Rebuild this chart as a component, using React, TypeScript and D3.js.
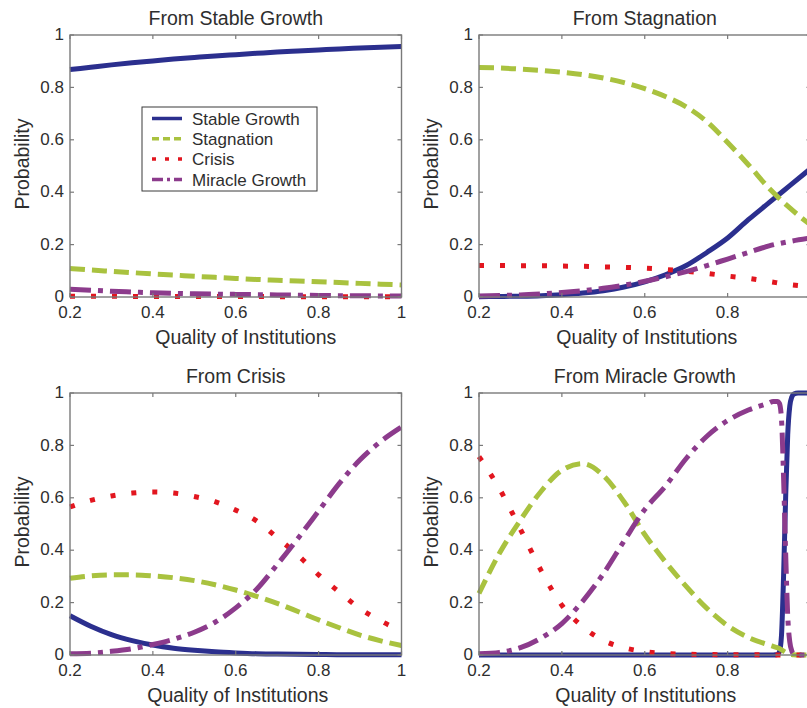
import React from "react";
import * as d3 from "d3";

// Quality-of-institutions grids (the last panel needs a finer grid near its sharp switch)
const quality = [0.2, 0.25, 0.3, 0.35, 0.4, 0.45, 0.5, 0.55, 0.6, 0.65, 0.7, 0.75, 0.8, 0.85, 0.9, 0.95, 1.0];
const qualityFine = [
  0.2, 0.25, 0.3, 0.35, 0.4, 0.45, 0.5, 0.55, 0.6, 0.65, 0.7, 0.75, 0.8, 0.85, 0.9,
  0.91, 0.92, 0.925, 0.93, 0.935, 0.94, 0.945, 0.95, 0.955, 0.96, 0.97, 0.98, 1.0,
];

const states = ["Stable Growth", "Stagnation", "Crisis", "Miracle Growth"];
const panelTitles = ["From Stable Growth", "From Stagnation", "From Crisis", "From Miracle Growth"];
const xTicks = [0.2, 0.4, 0.6, 0.8, 1];
const xTickLabels = ["0.2", "0.4", "0.6", "0.8", "1"];
const yTicks = [0, 0.2, 0.4, 0.6, 0.8, 1];
const yTickLabels = ["0", "0.2", "0.4", "0.6", "0.8", "1"];

// Transition probabilities from Stable Growth
const sgToStable = [0.868, 0.877, 0.886, 0.894, 0.901, 0.908, 0.914, 0.92, 0.925, 0.93, 0.935, 0.939, 0.943, 0.947, 0.95, 0.953, 0.956];
const sgToStagnation = [0.109, 0.103, 0.098, 0.093, 0.088, 0.084, 0.079, 0.075, 0.071, 0.067, 0.064, 0.061, 0.058, 0.055, 0.052, 0.049, 0.046];
const sgToCrisis = [0.003, 0.003, 0.003, 0.002, 0.002, 0.002, 0.002, 0.002, 0.002, 0.002, 0.001, 0.001, 0.001, 0.001, 0.001, 0.001, 0.001];
const sgToMiracle = [0.03, 0.026, 0.022, 0.019, 0.016, 0.014, 0.012, 0.011, 0.01, 0.009, 0.008, 0.007, 0.006, 0.005, 0.005, 0.004, 0.004];

// Transition probabilities from Stagnation
const stToStable = [0.001, 0.002, 0.003, 0.005, 0.009, 0.015, 0.024, 0.038, 0.058, 0.085, 0.12, 0.17, 0.225, 0.295, 0.36, 0.425, 0.49];
const stToStagnation = [0.876, 0.874, 0.87, 0.865, 0.858, 0.849, 0.836, 0.818, 0.795, 0.765, 0.726, 0.669, 0.59, 0.505, 0.415, 0.34, 0.275];
const stToCrisis = [0.12, 0.12, 0.119, 0.119, 0.118, 0.117, 0.115, 0.113, 0.11, 0.105, 0.098, 0.09, 0.08, 0.071, 0.059, 0.047, 0.04];
const stToMiracle = [0.004, 0.006, 0.008, 0.012, 0.017, 0.024, 0.033, 0.045, 0.06, 0.077, 0.097, 0.12, 0.145, 0.17, 0.195, 0.212, 0.225];

// Transition probabilities from Crisis
const crToStable = [0.15, 0.11, 0.078, 0.055, 0.038, 0.026, 0.018, 0.012, 0.008, 0.005, 0.004, 0.003, 0.002, 0.001, 0.001, 0.001, 0.001];
const crToStagnation = [0.293, 0.302, 0.306, 0.306, 0.302, 0.295, 0.284, 0.268, 0.248, 0.224, 0.197, 0.166, 0.134, 0.104, 0.076, 0.054, 0.036];
const crToCrisis = [0.565, 0.59, 0.607, 0.618, 0.622, 0.618, 0.605, 0.585, 0.553, 0.512, 0.448, 0.381, 0.306, 0.24, 0.177, 0.13, 0.092];
const crToMiracle = [0.005, 0.007, 0.014, 0.024, 0.04, 0.06, 0.087, 0.125, 0.18, 0.25, 0.345, 0.445, 0.55, 0.655, 0.745, 0.815, 0.87];

// Transition probabilities from Miracle Growth
const mgToStable = [0, 0, 0, 0, 0, 0, 0, 0, 0, 0, 0, 0, 0, 0, 0, 0, 0.002, 0.012, 0.075, 0.3, 0.6, 0.84, 0.95, 0.985, 0.996, 1, 1, 1];
const mgToStagnation = [0.235, 0.39, 0.515, 0.625, 0.705, 0.73, 0.685, 0.585, 0.46, 0.355, 0.262, 0.178, 0.112, 0.067, 0.038, 0.033, 0.028, 0.025, 0.02, 0.015, 0.01, 0.006, 0.004, 0.002, 0.001, 0, 0, 0];
const mgToCrisis = [0.757, 0.633, 0.48, 0.322, 0.19, 0.108, 0.056, 0.028, 0.013, 0.006, 0.003, 0.002, 0.001, 0.001, 0, 0, 0, 0, 0, 0, 0, 0, 0, 0, 0, 0, 0, 0];
const mgToMiracle = [0.005, 0.01, 0.028, 0.065, 0.12, 0.205, 0.31, 0.435, 0.555, 0.645, 0.75, 0.835, 0.895, 0.935, 0.962, 0.968, 0.968, 0.96, 0.9, 0.68, 0.39, 0.15, 0.05, 0.015, 0.004, 0.001, 0, 0];

const panelGrids = [quality, quality, quality, qualityFine];
const panelSeries = [
  [sgToStable, sgToStagnation, sgToCrisis, sgToMiracle],
  [stToStable, stToStagnation, stToCrisis, stToMiracle],
  [crToStable, crToStagnation, crToCrisis, crToMiracle],
  [mgToStable, mgToStagnation, mgToCrisis, mgToMiracle],
];

// Line styles, one per destination state
const colors = ["#2b2f8e", "#a9c23f", "#e2161f", "#8c3b8c"];
const dashes = ["none", "15 7", "5 16", "21 7 5 7"];
const legendDashes = ["none", "7 4", "4 9", "11 4 3 4"];

const FONT = "'Liberation Sans', Arial, Helvetica, sans-serif";
const TEXT = "#2e2e2e";
const W = 807;
const H = 708;
const PW = 331.5;
const PH = 262;
const origins = [
  { x: 70, y: 35 },
  { x: 479, y: 35 },
  { x: 70, y: 393 },
  { x: 479, y: 393 },
];
const xLabelShift = [10, 2, 2, 1];

function Panel({ idx }: { idx: number }) {
  const { x: ox, y: oy } = origins[idx];
  const xs = d3.scaleLinear().domain([0.2, 1]).range([ox, ox + PW]);
  const ys = d3.scaleLinear().domain([0, 1]).range([oy + PH, oy]);
  const grid = panelGrids[idx];
  const line = d3
    .line<number>()
    .x((_, i) => xs(grid[i]))
    .y((d) => ys(d))
    .curve(d3.curveMonotoneX);
  const tl = 4;
  return (
    <g>
      {panelSeries[idx].map((vals, s) => (
        <path
          key={s}
          d={line(vals) || ""}
          fill="none"
          stroke={colors[s]}
          strokeWidth={5}
          strokeDasharray={dashes[s]}
          strokeLinejoin="round"
        />
      ))}
      <rect x={ox} y={oy} width={PW} height={PH} fill="none" stroke="#7a7a7a" strokeWidth={1.4} />
      {xTicks.map((t) => (
        <g key={"xt" + t}>
          <line x1={xs(t)} x2={xs(t)} y1={oy + PH} y2={oy + PH - tl} stroke="#7a7a7a" strokeWidth={1.2} />
          <line x1={xs(t)} x2={xs(t)} y1={oy} y2={oy + tl} stroke="#7a7a7a" strokeWidth={1.2} />
        </g>
      ))}
      {yTicks.map((t) => (
        <g key={"yt" + t}>
          <line x1={ox} x2={ox + tl} y1={ys(t)} y2={ys(t)} stroke="#7a7a7a" strokeWidth={1.2} />
          <line x1={ox + PW} x2={ox + PW - tl} y1={ys(t)} y2={ys(t)} stroke="#7a7a7a" strokeWidth={1.2} />
        </g>
      ))}
      {xTicks.map((t, i) =>
        // labels whose position lies past the page edge are left out
        xs(t) + 4 > W ? null : (
          <text key={"xl" + t} x={xs(t)} y={oy + PH + 21} textAnchor="middle" fontSize={17} fill={TEXT}>
            {xTickLabels[i]}
          </text>
        )
      )}
      {yTicks.map((t, i) => (
        <text key={"yl" + t} x={ox - 6} y={ys(t)} dy="0.3em" textAnchor="end" fontSize={17} fill={TEXT}>
          {yTickLabels[i]}
        </text>
      ))}
      <text x={ox + PW / 2} y={oy - 10} textAnchor="middle" fontSize={19.5} fill={TEXT}>
        {panelTitles[idx]}
      </text>
      <text x={ox + PW / 2 + xLabelShift[idx]} y={oy + PH + 47} textAnchor="middle" fontSize={19.5} fill={TEXT}>
        Quality of Institutions
      </text>
      <text
        transform={`translate(${ox - 41},${oy + PH / 2 - 2}) rotate(-90)`}
        textAnchor="middle"
        fontSize={19.5}
        fill={TEXT}
      >
        Probability
      </text>
    </g>
  );
}

function Legend() {
  const lx = 142;
  const ly = 107;
  return (
    <g>
      <rect x={lx} y={ly} width={175} height={84} fill="#fff" stroke="#3a3a3a" strokeWidth={1} />
      {states.map((s, i) => {
        const cy = ly + 11.5 + i * 20.3;
        return (
          <g key={s}>
            <line
              x1={lx + 10}
              x2={lx + 40}
              y1={cy}
              y2={cy}
              stroke={colors[i]}
              strokeWidth={3.5}
              strokeDasharray={legendDashes[i]}
            />
            <text x={lx + 50} y={cy} dy="0.36em" fontSize={17} fill={TEXT}>
              {s}
            </text>
          </g>
        );
      })}
    </g>
  );
}

export default function App() {
  return (
    <svg
      width={W}
      height={H}
      style={{ position: "absolute", left: 0, top: 0, background: "#fff", fontFamily: FONT }}
    >
      <rect width={W} height={H} fill="#fff" />
      {[0, 1, 2, 3].map((i) => (
        <Panel key={i} idx={i} />
      ))}
      <Legend />
    </svg>
  );
}
